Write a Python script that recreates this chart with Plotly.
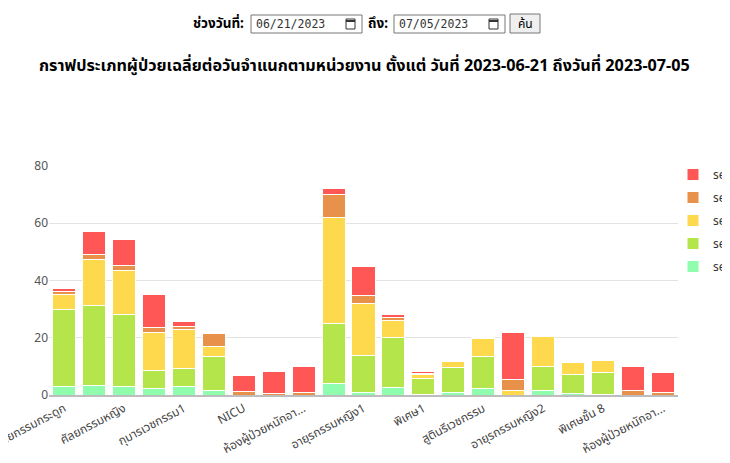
import plotly.graph_objects as go

# ---------------- data ----------------
categories = [
    "ศัลยกรรมกระดูก", "ศัลยกรรมชาย", "ศัลยกรรมหญิง", "ศัลยกรรมประสาท",
    "กุมารเวชกรรม1", "กุมารเวชกรรม2", "NICU", "ห้องผู้ป่วยหนักกุมาร",
    "ห้องผู้ป่วยหนักอายุรกรรม1", "อายุรกรรมชาย1", "อายุรกรรมหญิง1", "อายุรกรรมชาย2",
    "พิเศษ1", "พิเศษ2", "สูตินรีเวชกรรม", "ห้องคลอด",
    "อายุรกรรมหญิง2", "พิเศษชั้น 7", "พิเศษชั้น 8", "ห้องผู้ป่วยหนักศัลยกรรม",
    "ห้องผู้ป่วยหนักอายุรกรรม2",
]
tick_labels = [
    "ศัลยกรรมกระดูก", "", "ศัลยกรรมหญิง", "",
    "กุมารเวชกรรม1", "", "NICU", "",
    "ห้องผู้ป่วยหนักอา...", "", "อายุรกรรมหญิง1", "",
    "พิเศษ1", "", "สูตินรีเวชกรรม", "",
    "อายุรกรรมหญิง2", "", "พิเศษชั้น 8", "",
    "ห้องผู้ป่วยหนักอา...",
]

series_names = ["series1", "series2", "series3", "series4", "series5"]  # bottom -> top
lightgreen = [3.0, 3.4, 3.0, 2.1, 3.0, 1.7, 0, 0, 0, 4.1, 0.9, 2.7, 0.2, 0.9, 2.2, 0, 1.7, 0.6, 0.3, 0, 0]
green      = [27.0, 28.0, 25.1, 6.3, 6.4, 11.7, 0, 0, 0, 21.0, 12.8, 17.4, 5.4, 8.8, 11.2, 0, 8.2, 6.7, 7.7, 0, 0]
yellow     = [5.0, 16.0, 15.3, 13.3, 13.4, 3.5, 0, 0, 0, 36.8, 18.2, 6.1, 1.7, 2.0, 6.3, 1.7, 10.7, 4.2, 4.0, 0, 0]
orange     = [1.0, 1.6, 1.8, 1.9, 1.2, 4.7, 1.2, 0.7, 0.8, 8.1, 2.8, 0.8, 0.3, 0.2, 0, 3.8, 0.2, 0.1, 0, 1.7, 0.9]
red        = [1.2, 8.0, 9.0, 11.5, 1.7, 0, 5.5, 7.6, 9.2, 2.3, 10.2, 1.0, 0.5, 0.3, 0.3, 16.4, 0.5, 0.4, 0.3, 8.3, 6.9]
series_values = [lightgreen, green, yellow, orange, red]
series_colors = ["#8ffcae", "#b4e64b", "#ffd94d", "#e8914a", "#ff5656"]

y_ticks = [0, 20, 40, 60, 80]

title_text = "กราฟประเภทผู้ป่วยเฉลี่ยต่อวันจำแนกตามหน่วยงาน ตั้งแต่ วันที่ 2023-06-21 ถึงวันที่ 2023-07-05"
date_from = "06/21/2023"
date_to = "07/05/2023"

# ---------------- figure ----------------
O = 8                      # page body margin offset
SW, SH = 730, 463          # screen size
W, H = SW - O, SH - O      # figure size
PL, PR, PT, PB = 49, 678, 166, 395   # plot area in screen pixels
L, R, T, B = PL - O, SW - PR, PT - O, SH - PB
PW, PH = PR - PL, PB - PT


def px(x):
    return (x - PL) / PW


def py(y):
    return (PB - y) / PH


FONT = "Tahoma, Noto Sans, Noto Sans Thai, sans-serif"

fig = go.Figure()
n = len(series_names)
for i, (name, vals, col) in enumerate(zip(series_names, series_values, series_colors)):
    fig.add_trace(go.Bar(
        x=categories, y=vals, name=name, legendgroup=name, legendrank=n - i,
        marker=dict(color=col, line=dict(color="white", width=1)),
    ))

shapes = []
annotations = []

# form: label, inputs and button
annotations.append(dict(x=px(246), y=py(23), xref="paper", yref="paper", text="<b>ช่วงวันที่:</b>",
                        showarrow=False, xanchor="right", yanchor="middle",
                        font=dict(size=13.5, color="#000", family=FONT)))
for x0, x1, txt in [(251, 362, date_from), (394, 505, date_to)]:
    shapes.append(dict(type="rect", xref="paper", yref="paper", x0=px(x0), x1=px(x1),
                       y0=py(33), y1=py(15), line=dict(color="#767676", width=1), fillcolor="white"))
    annotations.append(dict(x=px(x0 + 3), y=py(24), xref="paper", yref="paper", text=txt,
                            showarrow=False, xanchor="left", yanchor="middle",
                            font=dict(size=11.5, color="#333", family="DejaVu Sans Mono, monospace")))
    # calendar icon
    shapes.append(dict(type="rect", xref="paper", yref="paper", x0=px(x1 - 16), x1=px(x1 - 7),
                       y0=py(29), y1=py(19), line=dict(color="#333", width=1), fillcolor="white"))
    shapes.append(dict(type="line", xref="paper", yref="paper", x0=px(x1 - 16), x1=px(x1 - 7),
                       y0=py(21), y1=py(21), line=dict(color="#333", width=2)))
annotations.append(dict(x=px(390), y=py(23), xref="paper", yref="paper", text="<b>ถึง:</b>",
                        showarrow=False, xanchor="right", yanchor="middle",
                        font=dict(size=13.5, color="#000", family=FONT)))
shapes.append(dict(type="rect", xref="paper", yref="paper", x0=px(510), x1=px(540),
                   y0=py(33), y1=py(14), line=dict(color="#767676", width=1), fillcolor="#efefef"))
annotations.append(dict(x=px(525), y=py(23.5), xref="paper", yref="paper", text="ค้น",
                        showarrow=False, xanchor="center", yanchor="middle",
                        font=dict(size=12, color="#000", family=FONT)))

# title
annotations.append(dict(x=px(365), y=py(65), xref="paper", yref="paper", text="<b>" + title_text + "</b>",
                        showarrow=False, xanchor="center", yanchor="middle",
                        font=dict(size=16.2, color="#000", family=FONT)))

fig.update_layout(
    width=W, height=H,
    margin=dict(l=L, r=R, t=T, b=B, autoexpand=False),
    barmode="stack", bargap=0.23,
    plot_bgcolor="white", paper_bgcolor="white",
    font=dict(family=FONT, size=12, color="#666"),
    showlegend=True,
    legend=dict(x=px(673), y=py(160), xanchor="left", yanchor="top", traceorder="grouped",
                font=dict(size=12, color="#333", family=FONT), itemwidth=30,
                bgcolor="rgba(0,0,0,0)", tracegroupgap=4),
    shapes=shapes, annotations=annotations,
)
fig.update_xaxes(
    tickmode="array", tickvals=categories, ticktext=tick_labels, tickangle=-28,
    showgrid=False, showline=True, linecolor="#bdbdbd", linewidth=2,
    ticks="", tickfont=dict(size=12, color="#444"),
)
fig.update_yaxes(
    range=[0, 80], tickvals=y_ticks, showgrid=True, gridcolor="#e3e3e3", gridwidth=1,
    zeroline=False, showline=False, ticks="", tickfont=dict(size=12, color="#555"),
)

fig.write_html("out.html")
